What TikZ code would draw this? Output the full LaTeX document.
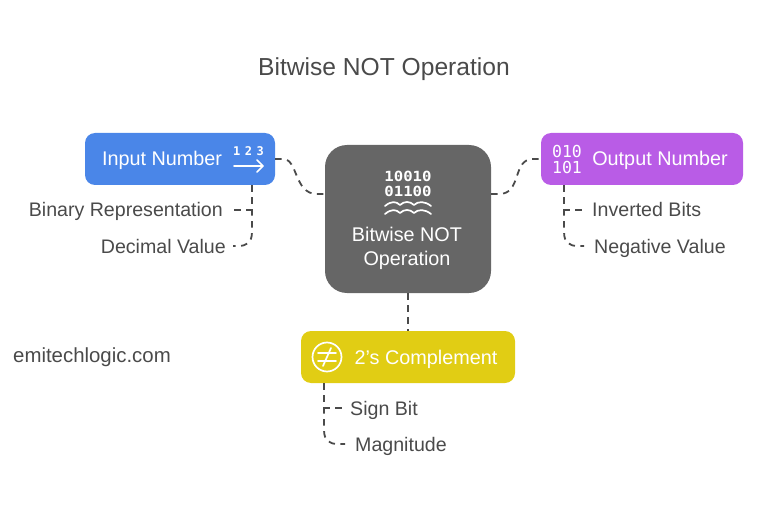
\documentclass[tikz,border=0pt]{standalone}
\usepackage{fontspec}
\setmainfont{Liberation Sans}
\newfontfamily\iconfont{DejaVu Sans Mono}
\newfontfamily\wideiconfont[FakeStretch=1.12]{DejaVu Sans Mono}
\definecolor{inputblue}{HTML}{4A86E8}
\definecolor{outputpurple}{HTML}{B95CE6}
\definecolor{compyellow}{HTML}{E1CD14}
\definecolor{opgray}{HTML}{666666}
\definecolor{textgray}{HTML}{4A4A4A}
\tikzset{
  topicbox/.style 2 args={fill=#1,rounded corners=#2,inner sep=0pt,text=white},
  topiclabel/.style={text=white,font=\fontsize{19.8}{19.8}\selectfont,inner sep=0pt,text height=16pt,text depth=2pt},
  leaf/.style={text=textgray,font=\fontsize{19.6}{19.6}\selectfont,inner sep=0pt,text height=16pt,text depth=2pt},
  link/.style={textgray,line width=1.8pt,dash pattern=on 6.5pt off 5.5pt},
  iconline/.style={white,line width=1.7pt,line cap=round,line join=round},
  icontext/.style={text=white,inner sep=0pt,font=\iconfont\bfseries\fontsize{#1}{#1}\selectfont},
  bittext/.style={text=white,inner sep=0pt,font=\wideiconfont\bfseries\fontsize{14}{14}\selectfont},
  thinbits/.style={text=white,inner sep=0pt,font=\iconfont\fontsize{16.5}{16.5}\selectfont}
}
\begin{document}
\begin{tikzpicture}[x=1pt,y=-1pt]
  \useasboundingbox (0,0) rectangle (768,505);

  % Title and site name
  \node[text=textgray,font=\fontsize{24.6}{24.6}\selectfont,inner sep=0pt,text height=22pt,text depth=2pt] (title) at (384,66) {Bitwise NOT Operation};
  \node[leaf,anchor=west,font=\fontsize{20.4}{20.4}\selectfont] (site) at (13,355) {emitechlogic.com};

  % Boxes
  \node[topicbox={inputblue}{10pt},minimum width=190pt,minimum height=52pt] (input) at (180,159) {};
  \node[topicbox={opgray}{22pt},minimum width=166pt,minimum height=148pt] (bitnot) at (408,219) {};
  \node[topicbox={outputpurple}{10pt},minimum width=202pt,minimum height=52pt] (output) at (642,159) {};
  \node[topicbox={compyellow}{10pt},minimum width=214pt,minimum height=52pt] (compl) at (408,357) {};

  % Box labels
  \node[topiclabel] (inputlabel) at (162,159) {Input Number};
  \node[topiclabel] (bitnotlabel) at (407,234) {Bitwise NOT};
  \node[topiclabel] (bitnotlabelb) at (407,258) {Operation};
  \node[topiclabel] (outputlabel) at (660,159) {Output Number};
  \node[topiclabel] (compllabel) at (426,357) {2's Complement};

  % Leaves
  \node[leaf,anchor=east] (binrep) at (223,210) {Binary Representation};
  \node[leaf,anchor=east] (decval) at (226,246) {Decimal Value};
  \node[leaf,anchor=west] (invbits) at (592,210) {Inverted Bits};
  \node[leaf,anchor=west] (negval) at (594,246) {Negative Value};
  \node[leaf,anchor=west] (signbit) at (350,408) {Sign Bit};
  \node[leaf,anchor=west] (magn) at (355,444) {Magnitude};

  % Icons
  \node[icontext=12] (onetwothree) at (248.5,151) {1\hspace{4.5pt}2\hspace{4.5pt}3};
  \draw[iconline] (234,166) -- (263,166) (257,160) -- (263,166) -- (257,172);
  \node[bittext] (tenbitsa) at (408,176) {10010};
  \node[bittext] (tenbitsb) at (408,191) {01100};
  \draw[iconline] (385,206) .. controls (391,201) and (396,201) .. (400,205) .. controls (404,201) and (410,201) .. (414,205) .. controls (418,201) and (425,201) .. (431,206);
  \draw[iconline] (385,214) .. controls (391,209) and (396,209) .. (400,213) .. controls (404,209) and (410,209) .. (414,213) .. controls (418,209) and (425,209) .. (431,214);
  \node[thinbits] (threebitsa) at (567,151.5) {010};
  \node[thinbits] (threebitsb) at (567,167.5) {101};
  \node[circle,draw=white,line width=1.7pt,minimum size=29pt,inner sep=0pt] (noteq) at (327,357) {};
  \draw[iconline] (318,353) -- (336,353) (318,361) -- (336,361) (323,366) -- (331,348);

  % Main links
  \draw[link] (input.east) -- ++(8,0) .. controls (298,159) and (294,194) .. (317,194) -- ([yshift=25pt]bitnot.west);
  \draw[link] ([yshift=25pt]bitnot.east) -- ++(8,0) .. controls (522,194) and (512,159) .. (533,159) -- (output.west);
  \draw[link] (bitnot.south) -- (compl.north);

  % Leaf links
  \draw[link] ([xshift=72pt]input.south) -- (252,210) -- ([xshift=10pt]binrep.east);
  \draw[link] ([xshift=72pt]input.south) -- (252,232) .. controls (252,243) and (246,246) .. (238,246) -- ([xshift=7pt]decval.east);
  \draw[link] ([xshift=-78pt]output.south) -- (564,210) -- ([xshift=-8pt]invbits.west);
  \draw[link] ([xshift=-78pt]output.south) -- (564,232) .. controls (564,243) and (570,246) .. (578,246) -- ([xshift=-10pt]negval.west);
  \draw[link] ([xshift=-84pt]compl.south) -- (324,408) -- ([xshift=-8pt]signbit.west);
  \draw[link] ([xshift=-84pt]compl.south) -- (324,430) .. controls (324,441) and (330,444) .. (338,444) -- ([xshift=-10pt]magn.west);
\end{tikzpicture}
\end{document}
